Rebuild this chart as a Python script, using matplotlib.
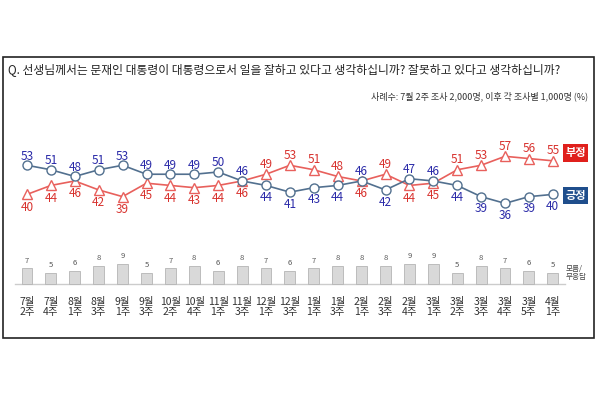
import numpy as np
import matplotlib.pyplot as plt
from matplotlib.patches import Rectangle

plt.rcParams['font.family'] = ['Noto Sans CJK KR', 'DejaVu Sans']

weeks = ['7월\n2주', '7월\n4주', '8월\n1주', '8월\n3주', '9월\n1주', '9월\n3주', '10월\n2주', '10월\n4주',
         '11월\n1주', '11월\n3주', '12월\n1주', '12월\n3주', '1월\n1주', '1월\n3주', '2월\n1주', '2월\n3주',
         '2월\n4주', '3월\n1주', '3월\n2주', '3월\n3주', '3월\n4주', '3월\n5주', '4월\n1주']
pos = [53, 51, 48, 51, 53, 49, 49, 49, 50, 46, 44, 41, 43, 44, 46, 42, 47, 46, 44, 39, 36, 39, 40]
neg = [40, 44, 46, 42, 39, 45, 44, 43, 44, 46, 49, 53, 51, 48, 46, 49, 44, 45, 51, 53, 57, 56, 55]
dk = [7, 5, 6, 8, 9, 5, 7, 8, 6, 8, 7, 6, 7, 8, 8, 8, 9, 9, 5, 8, 7, 6, 5]
# label above (1) or below (-1)
pos_side = [1]*10 + [-1, -1, -1, -1, 1, -1, 1, 1, -1, -1, -1, -1, -1]
neg_side = [-1]*10 + [1, 1, 1, 1, -1, 1, -1, -1, 1, 1, 1, 1, 1]

W, H = 600, 405
fig = plt.figure(figsize=(6, 4.05), dpi=100)

def fx(p):
    return p / W

def fy(p):
    return 1 - p / H

# frame
fig.patches.append(Rectangle((fx(3), fy(338)), (594 - 3) / W, (338 - 57) / H,
                             transform=fig.transFigure, fill=False, ec='#222222', lw=1.2))

fig.text(fx(8), fy(70), 'Q. 선생님께서는 문재인 대통령이 대통령으로서 일을 잘하고 있다고 생각하십니까? 잘못하고 있다고 생각하십니까?',
         fontsize=8.5, color='#222222', va='center', ha='left')
fig.text(fx(588), fy(96), '사례수: 7월 2주 조사 2,000명, 이후 각 조사별 1,000명 (%)',
         fontsize=6.5, color='#333333', va='center', ha='right')

# axes: x pixel 27 + 23.9*i, y pixel 284 - 2.24*v
left_px, right_px, top_px, bot_px = 10, 590, 120, 336
ax = fig.add_axes([fx(left_px), fy(bot_px), (right_px - left_px) / W, (bot_px - top_px) / H])
ax.set_xlim((left_px - 27) / 23.9, (right_px - 27) / 23.9)
ax.set_ylim(-(bot_px - 284) / 2.24, (284 - top_px) / 2.24)
ax.axis('off')

x = np.arange(len(weeks))

ax.plot([-0.5, 22.5], [0, 0], color='#cccccc', lw=1, zorder=1)
ax.bar(x, dk, width=0.46, color='#d9d9d9', edgecolor='#b5b5b5', lw=0.6, zorder=2)
for i, v in enumerate(dk):
    ax.text(i, v + 1.6, str(v), fontsize=5.5, style='italic', color='#555555', ha='center', va='bottom')
ax.text(22.55, 5.0, '모름/\n무응답', fontsize=5.5, color='#444444', ha='left', va='center', linespacing=1.1)

ax.plot(x, neg, color='#e8605c', lw=1.2, zorder=3)
ax.plot(x, neg, ls='none', marker='^', ms=6.5, mfc='white', mec='#e8605c', mew=1.0, zorder=4)
ax.plot(x, pos, color='#52708f', lw=1.2, zorder=3)
ax.plot(x, pos, ls='none', marker='o', ms=6.5, mfc='white', mec='#52708f', mew=1.0, zorder=4)

for i in x:
    s = pos_side[i]
    d = 4.1 if s > 0 else 5.4
    ax.text(i, pos[i] + s * d, str(pos[i]), fontsize=8.5, color='#2a2aa8', ha='center', va='center', zorder=5)
    s = neg_side[i]
    d = 4.4 if s > 0 else 5.7
    ax.text(i, neg[i] + s * d, str(neg[i]), fontsize=8.5, color='#d8322e', ha='center', va='center', zorder=5)

for i, lab in enumerate(weeks):
    ax.text(i, -10.4, lab, fontsize=7.5, color='#333333', ha='center', va='center', linespacing=0.95)

ax.text(22.95, 58.5, '부정', fontsize=8, fontweight='bold', color='white', ha='center', va='center',
        bbox=dict(boxstyle='square,pad=0.2', fc='#e0201c', ec='none'))
ax.text(22.95, 39.5, '긍정', fontsize=8, fontweight='bold', color='white', ha='center', va='center',
        bbox=dict(boxstyle='square,pad=0.2', fc='#1f4e8c', ec='none'))

fig.savefig('out.png', dpi=100)
